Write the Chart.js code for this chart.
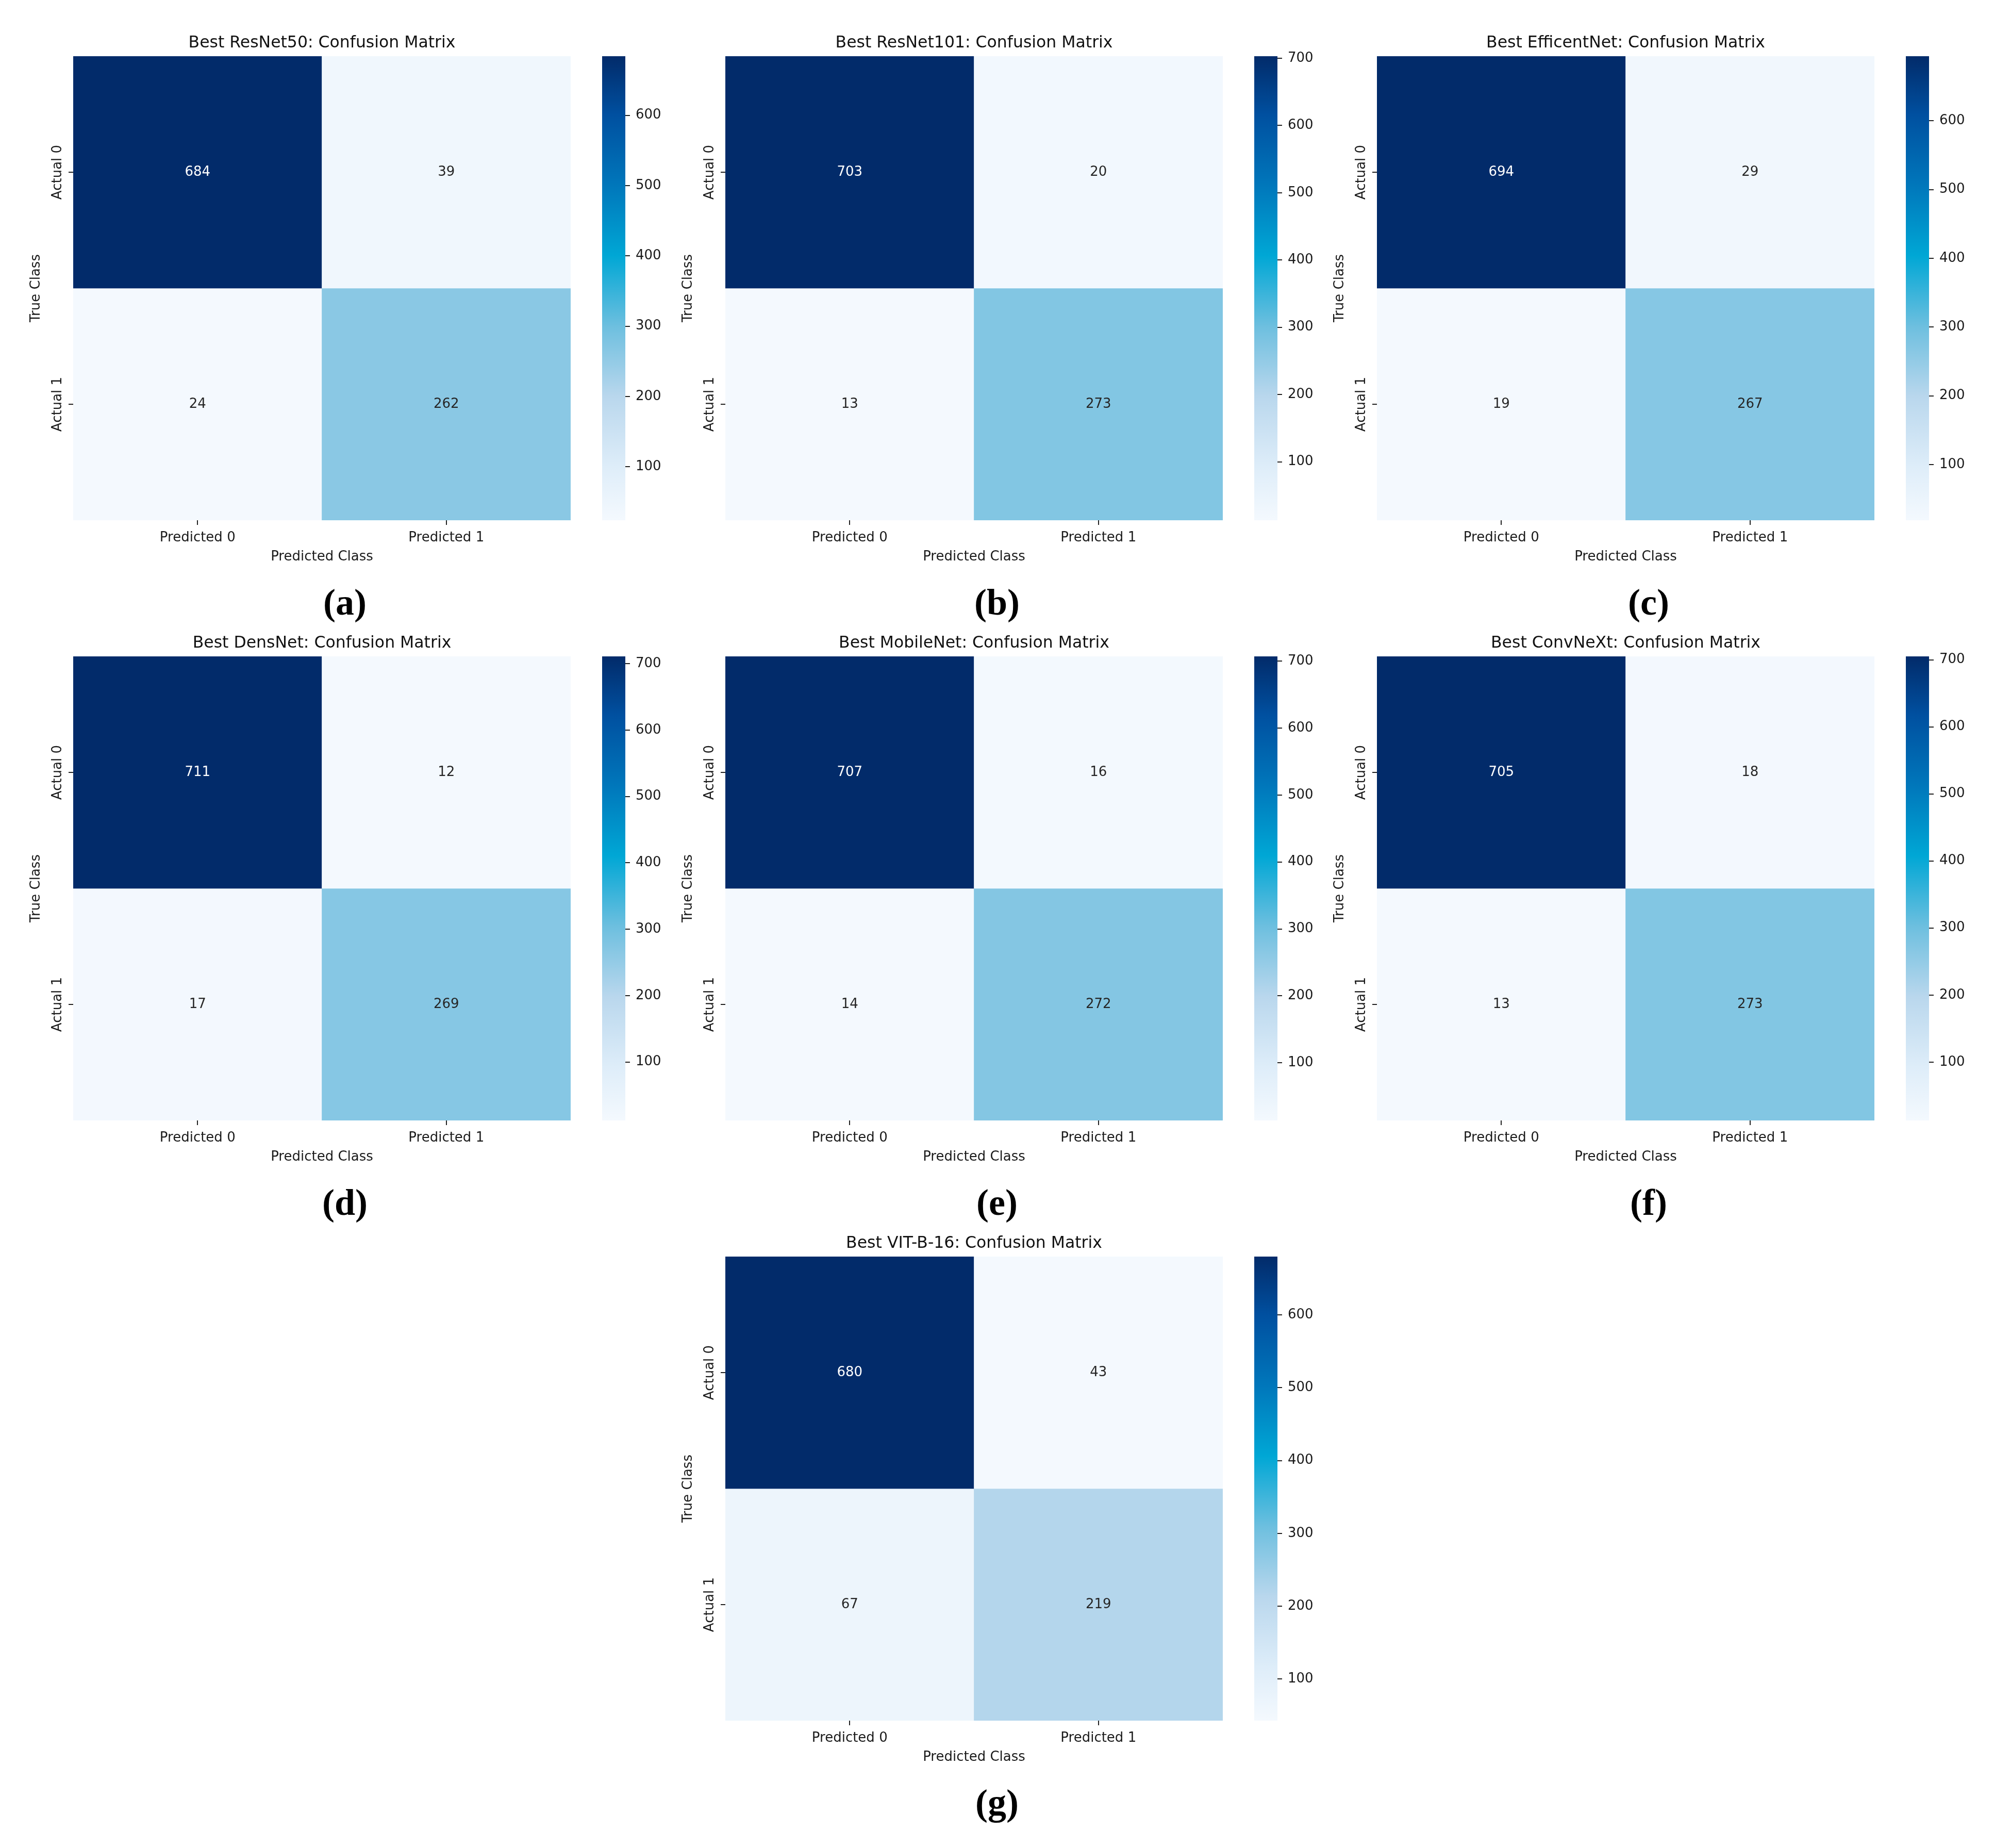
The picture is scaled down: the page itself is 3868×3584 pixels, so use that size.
<!DOCTYPE html>
<html><head><meta charset="utf-8">
<script src="https://cdn.jsdelivr.net/npm/chart.js@4.4.1/dist/chart.umd.min.js"></script>
<style>
html,body{margin:0;padding:0;background:#fff;}
body{width:3868px;height:3584px;position:relative;overflow:hidden;}
canvas{position:absolute;}
.lbl{position:absolute;font-family:'Liberation Serif';font-weight:bold;font-size:72px;line-height:72px;width:300px;text-align:center;color:#000;}
</style></head><body>
<script>
// ---------------- data ----------------
const modelTitles = [
  'Best ResNet50: Confusion Matrix',
  'Best ResNet101: Confusion Matrix',
  'Best EfficentNet: Confusion Matrix',
  'Best DensNet: Confusion Matrix',
  'Best MobileNet: Confusion Matrix',
  'Best ConvNeXt: Confusion Matrix',
  'Best VIT-B-16: Confusion Matrix'
];
const panelLetters = ['(a)','(b)','(c)','(d)','(e)','(f)','(g)'];
const xLabels = ['Predicted 0','Predicted 1'];
const yLabels = ['Actual 0','Actual 1'];
const xAxisTitle = 'Predicted Class';
const yAxisTitle = 'True Class';

const cmResNet50     = [[684, 39],[24, 262]];
const cmResNet101    = [[703, 20],[13, 273]];
const cmEfficientNet = [[694, 29],[19, 267]];
const cmDensNet      = [[711, 12],[17, 269]];
const cmMobileNet    = [[707, 16],[14, 272]];
const cmConvNeXt     = [[705, 18],[13, 273]];
const cmViT          = [[680, 43],[67, 219]];
const matrices = [cmResNet50, cmResNet101, cmEfficientNet, cmDensNet, cmMobileNet, cmConvNeXt, cmViT];

const cbTicks600 = [100,200,300,400,500,600];
const cbTicks700 = [100,200,300,400,500,600,700];
const colorbarTicks = [cbTicks600, cbTicks700, cbTicks600, cbTicks700, cbTicks700, cbTicks700, cbTicks600];

// ---------------- layout / style ----------------
const COLS = [142, 1407, 2671];
const ROWS = [109, 1273, 2437];
const slots = [[0,0],[1,0],[2,0],[0,1],[1,1],[2,1],[1,2]];
const HW = 965, HH = 900;
const FONT = "'DejaVu Sans'";
const TXT = '#1a1a1a';
const TICKC = '#222';

const cmapStops = [
  [0.000, [244,249,254]],
  [0.115, [222,237,249]],
  [0.267, [185,215,237]],
  [0.418, [109,191,223]],
  [0.570, [0,167,213]],
  [0.721, [0,119,187]],
  [0.873, [0,80,160]],
  [1.000, [2,43,106]]
];
function cmapRGB(t){
  t = Math.max(0, Math.min(1, t));
  for (let k = 1; k < cmapStops.length; k++){
    const [t1, c1] = cmapStops[k];
    const [t0, c0] = cmapStops[k-1];
    if (t <= t1){
      const f = (t - t0) / (t1 - t0);
      return c0.map((v, q) => Math.round(v + (c1[q] - v) * f));
    }
  }
  return cmapStops[cmapStops.length-1][1];
}
function cmap(t){ const c = cmapRGB(t); return `rgb(${c[0]},${c[1]},${c[2]})`; }
function textColorFor(t){
  const c = cmapRGB(t).map(v => { v /= 255; return v <= 0.03928 ? v/12.92 : Math.pow((v+0.055)/1.055, 2.4); });
  const lum = 0.2126*c[0] + 0.7152*c[1] + 0.0722*c[2];
  return lum < 0.408 ? '#ffffff' : '#262626';
}

Chart.defaults.font.family = FONT;
Chart.defaults.color = TXT;

const annotPlugin = {
  id: 'annot',
  afterDatasetsDraw(chart){
    const ctx = chart.ctx;
    ctx.save();
    ctx.font = `26px ${FONT}`;
    ctx.textAlign = 'center';
    ctx.textBaseline = 'middle';
    chart.data.datasets.forEach((ds, i) => {
      chart.getDatasetMeta(i).data.forEach((el, j) => {
        const p = el.getCenterPoint();
        ctx.fillStyle = ds.textColors[j];
        ctx.fillText(String(ds.values[j]), p.x, p.y);
      });
    });
    ctx.restore();
  }
};

function gridOpts(){
  return {display:true, offset:false, drawOnChartArea:false, drawTicks:true, tickLength:9, color:TICKC, lineWidth:2};
}

function makePanel(idx){
  const m = matrices[idx];
  const [c, r] = slots[idx];
  const ox = COLS[c], oy = ROWS[r];
  const flat = m.flat();
  const vmin = Math.min(...flat), vmax = Math.max(...flat);
  const norm = v => (v - vmin) / (vmax - vmin);

  // heatmap
  const LEFT = 112, TOP = 75, BOTTOM = 110;
  const cv = document.createElement('canvas');
  cv.width = LEFT + HW; cv.height = TOP + HH + BOTTOM;
  cv.style.left = (ox - LEFT) + 'px'; cv.style.top = (oy - TOP) + 'px';
  cv.style.width = cv.width + 'px'; cv.style.height = cv.height + 'px';
  document.body.appendChild(cv);

  const datasets = m.map((row, i) => ({
    data: row.map(() => [i, i + 1]),
    values: row,
    backgroundColor: row.map(v => cmap(norm(v))),
    textColors: row.map(v => textColorFor(norm(v))),
    borderWidth: 0,
    barPercentage: 1,
    categoryPercentage: 1,
    stack: 's'
  }));

  new Chart(cv, {
    type: 'bar',
    data: {labels: xLabels, datasets},
    options: {
      responsive: false, animation: false, devicePixelRatio: 1,
      layout: {padding: 0},
      plugins: {
        legend: {display: false},
        tooltip: {enabled: false},
        title: {display: true, text: modelTitles[idx], fullSize: false, color: '#111',
                font: {size: 31.5, lineHeight: 1, weight: 'normal'},
                padding: {top: 33.85, bottom: 9.65}}
      },
      scales: {
        x: {
          stacked: true, offset: true,
          grid: gridOpts(), border: {display: false},
          ticks: {font: {size: 26, lineHeight: 1}, color: TXT, padding: 12.2, maxRotation: 0, minRotation: 0},
          title: {display: true, text: xAxisTitle, color: TXT, font: {size: 26, lineHeight: 1}, padding: {top: 0, bottom: 25.8}},
          afterFit(s){ s.height = BOTTOM; s.paddingLeft = 0; s.paddingRight = 0; }
        },
        y: {
          type: 'linear', stacked: false, min: 0, max: 2, reverse: true,
          grid: gridOpts(), border: {display: false},
          afterBuildTicks(s){ s.ticks = [{value: 0.5}, {value: 1.5}]; },
          ticks: {font: {size: 26, lineHeight: 1}, color: TXT, minRotation: 90, maxRotation: 90,
                  crossAlign: 'center', padding: -32.6, callback: (v, i) => yLabels[i]},
          title: {display: true, text: yAxisTitle, color: TXT, font: {size: 26, lineHeight: 1}, padding: {top: 27.2, bottom: 0}},
          afterFit(s){ s.width = LEFT; s.paddingTop = 0; s.paddingBottom = 0; }
        }
      }
    },
    plugins: [annotPlugin]
  });

  // colorbar
  const CBW = 45, AXW = 100, PAD = 24;
  const cb = document.createElement('canvas');
  cb.width = CBW + AXW; cb.height = HH + 2 * PAD;
  cb.style.left = (ox + 1026) + 'px'; cb.style.top = (oy - PAD) + 'px';
  cb.style.width = cb.width + 'px'; cb.style.height = cb.height + 'px';
  document.body.appendChild(cb);

  new Chart(cb, {
    type: 'bar',
    data: {labels: [''], datasets: [{
      data: [[vmin, vmax]],
      backgroundColor: (ctx) => {
        const a = ctx.chart.chartArea;
        if (!a) return cmap(0.5);
        const g = ctx.chart.ctx.createLinearGradient(0, a.bottom, 0, a.top);
        cmapStops.forEach(([t, rgb]) => g.addColorStop(t, `rgb(${rgb[0]},${rgb[1]},${rgb[2]})`));
        return g;
      },
      borderWidth: 0, barPercentage: 1, categoryPercentage: 1
    }]},
    options: {
      responsive: false, animation: false, devicePixelRatio: 1,
      layout: {padding: {top: PAD, bottom: PAD, left: 0, right: 0}},
      plugins: {legend: {display: false}, tooltip: {enabled: false}},
      scales: {
        x: {display: false},
        y: {
          position: 'right', min: vmin, max: vmax,
          grid: {drawOnChartArea: false, drawTicks: true, tickLength: 9, color: TICKC, lineWidth: 2},
          border: {display: false},
          afterBuildTicks(s){ s.ticks = colorbarTicks[idx].map(v => ({value: v})); },
          ticks: {font: {size: 26, lineHeight: 1}, color: TXT, padding: 11},
          afterFit(s){ s.width = AXW; s.paddingTop = 0; s.paddingBottom = 0; }
        }
      }
    }
  });

  // panel letter
  const d = document.createElement('div');
  d.className = 'lbl';
  d.textContent = panelLetters[idx];
  d.style.left = (ox + 527 - 150) + 'px';
  d.style.top = (oy + 1083 - 60.3) + 'px';
  document.body.appendChild(d);
}

for (let i = 0; i < matrices.length; i++) makePanel(i);
</script>
</body></html>
